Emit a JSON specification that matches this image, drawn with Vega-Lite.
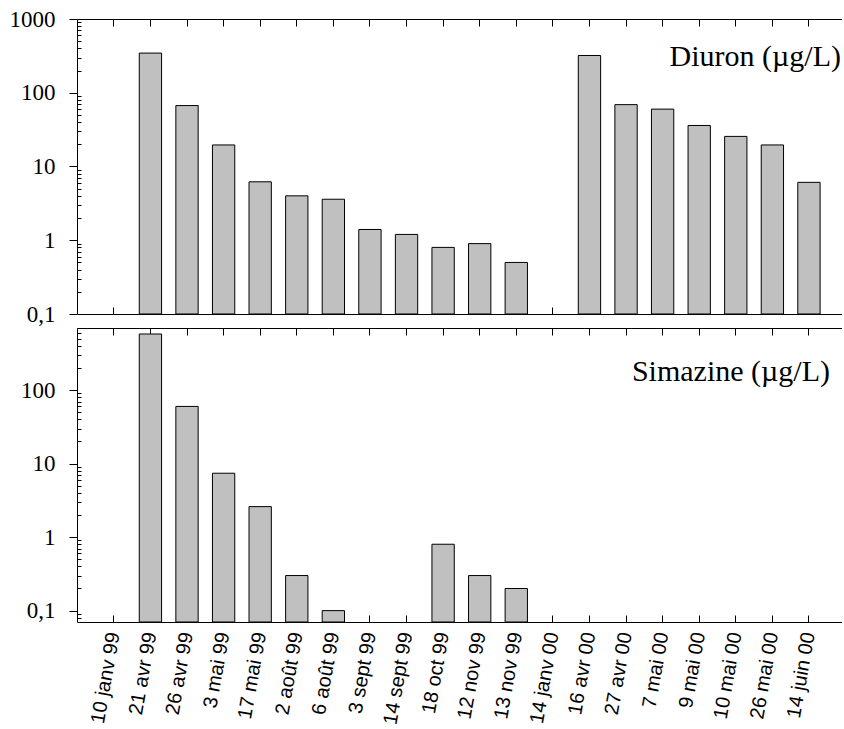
{
  "$schema": "https://vega.github.io/schema/vega-lite/v6.json",
  "padding": {"top": 8, "left": 9, "right": 0, "bottom": 0},
  "background": "white",
  "spacing": 14,
  "bounds": "flush",
  "config": {
    "view": {"stroke": null},
    "axis": {"domainColor": "black", "tickColor": "black", "domainWidth": 1, "tickWidth": 1, "grid": false, "title": null, "labelColor": "black"}
  },
  "datasets": {
    "conc": [
      {"date": "10 janv 99", "diuron": null, "simazine": null},
      {"date": "21 avr 99", "diuron": 345, "simazine": 580},
      {"date": "26 avr 99", "diuron": 67, "simazine": 60},
      {"date": "3 mai 99", "diuron": 19.6, "simazine": 7.4},
      {"date": "17 mai 99", "diuron": 6.2, "simazine": 2.6},
      {"date": "2 août 99", "diuron": 4.0, "simazine": 0.3},
      {"date": "6 août 99", "diuron": 3.6, "simazine": 0.1},
      {"date": "3 sept 99", "diuron": 1.4, "simazine": null},
      {"date": "14 sept 99", "diuron": 1.2, "simazine": null},
      {"date": "18 oct 99", "diuron": 0.8, "simazine": 0.8},
      {"date": "12 nov 99", "diuron": 0.9, "simazine": 0.3},
      {"date": "13 nov 99", "diuron": 0.5, "simazine": 0.2},
      {"date": "14 janv 00", "diuron": null, "simazine": null},
      {"date": "16 avr 00", "diuron": 320, "simazine": null},
      {"date": "27 avr 00", "diuron": 69, "simazine": null},
      {"date": "7 mai 00", "diuron": 60, "simazine": null},
      {"date": "9 mai 00", "diuron": 36, "simazine": null},
      {"date": "10 mai 00", "diuron": 25.6, "simazine": null},
      {"date": "26 mai 00", "diuron": 19.6, "simazine": null},
      {"date": "14 juin 00", "diuron": 6.1, "simazine": null}
    ]
  },
  "vconcat": [
    {
      "width": 765,
      "height": 295,
      "data": {"name": "conc"},
      "title": {"text": "Diuron (µg/L)", "orient": "top", "anchor": "end", "frame": "group", "font": "Liberation Serif", "fontSize": 30, "fontWeight": "normal", "color": "black", "baseline": "alphabetic", "offset": -88, "dx": -1},
      "resolve": {"axis": {"y": "independent"}},
      "layer": [
        {
          "mark": {"type": "bar", "fill": "#c0c0c0", "stroke": "black", "strokeWidth": 1},
          "encoding": {
            "x": {"field": "date", "type": "nominal", "sort": null,
              "scale": {"domain": ["10 janv 99", "21 avr 99", "26 avr 99", "3 mai 99", "17 mai 99", "2 août 99", "6 août 99", "3 sept 99", "14 sept 99", "18 oct 99", "12 nov 99", "13 nov 99", "14 janv 00", "16 avr 00", "27 avr 00", "7 mai 00", "9 mai 00", "10 mai 00", "26 mai 00", "14 juin 00"], "paddingInner": 0.39, "paddingOuter": 0.65, "align": 0.54},
              "axis": {"orient": "bottom", "labels": false, "tickSize": -7, "title": null}},
            "y": {"field": "diuron", "type": "quantitative", "stack": null,
              "scale": {"type": "log", "domain": [0.1, 1000], "nice": false},
              "axis": {"orient": "left", "title": null,
                "values": [0.1, 1, 10, 100, 1000],
                "labelExpr": "datum.value == 0.1 ? '0,1' : toString(datum.value)",
                "tickSize": 8,
                "labelFont": "Liberation Serif", "labelFontSize": 23, "labelPadding": 14, "labelOverlap": false, "labelBound": false, "labelFlush": false}}
          }
        },
        {
          "mark": {"type": "bar", "opacity": 0},
          "encoding": {
            "x": {"field": "date", "type": "nominal", "sort": null, "axis": {"orient": "top", "labels": false, "tickSize": -7, "title": null}},
            "y": {"field": "diuron", "type": "quantitative", "stack": null,
              "axis": {"orient": "left", "title": null, "labels": false, "domain": false, "tickSize": -4,
                "values": [0.2, 0.3, 0.4, 0.5, 0.6, 0.7, 0.8, 0.9, 2, 3, 4, 5, 6, 7, 8, 9, 20, 30, 40, 50, 60, 70, 80, 90, 200, 300, 400, 500, 600, 700, 800, 900]}}
          }
        }
      ]
    },
    {
      "width": 765,
      "height": 294,
      "data": {"name": "conc"},
      "title": {"text": "Simazine (µg/L)", "orient": "top", "anchor": "end", "frame": "group", "font": "Liberation Serif", "fontSize": 30, "fontWeight": "normal", "color": "black", "baseline": "alphabetic", "offset": -83, "dx": -12},
      "resolve": {"axis": {"y": "independent"}},
      "layer": [
        {
          "mark": {"type": "bar", "fill": "#c0c0c0", "stroke": "black", "strokeWidth": 1},
          "encoding": {
            "x": {"field": "date", "type": "nominal", "sort": null,
              "scale": {"domain": ["10 janv 99", "21 avr 99", "26 avr 99", "3 mai 99", "17 mai 99", "2 août 99", "6 août 99", "3 sept 99", "14 sept 99", "18 oct 99", "12 nov 99", "13 nov 99", "14 janv 00", "16 avr 00", "27 avr 00", "7 mai 00", "9 mai 00", "10 mai 00", "26 mai 00", "14 juin 00"], "paddingInner": 0.39, "paddingOuter": 0.65, "align": 0.54},
              "axis": {"orient": "bottom", "tickSize": -7, "title": null, "labelAngle": -80, "labelAlign": "right", "labelBaseline": "middle", "labelFont": "Liberation Sans", "labelFontSize": 20, "labelPadding": 17, "labelOverlap": false, "labelLimit": 0}},
            "y": {"field": "simazine", "type": "quantitative", "stack": null,
              "scale": {"type": "log", "domain": [0.07, 700], "nice": false},
              "axis": {"orient": "left", "title": null,
                "values": [0.1, 1, 10, 100],
                "labelExpr": "datum.value == 0.1 ? '0,1' : toString(datum.value)",
                "tickSize": 8,
                "labelFont": "Liberation Serif", "labelFontSize": 23, "labelPadding": 14, "labelOverlap": false, "labelBound": false, "labelFlush": false}}
          }
        },
        {
          "mark": {"type": "bar", "opacity": 0},
          "encoding": {
            "x": {"field": "date", "type": "nominal", "sort": null, "axis": {"orient": "top", "labels": false, "tickSize": -7, "title": null}},
            "y": {"field": "simazine", "type": "quantitative", "stack": null,
              "axis": {"orient": "left", "title": null, "labels": false, "domain": false, "tickSize": -4,
                "values": [0.08, 0.09, 0.2, 0.3, 0.4, 0.5, 0.6, 0.7, 0.8, 0.9, 2, 3, 4, 5, 6, 7, 8, 9, 20, 30, 40, 50, 60, 70, 80, 90, 200, 300, 400, 500, 600, 700]}}
          }
        }
      ]
    }
  ]
}
